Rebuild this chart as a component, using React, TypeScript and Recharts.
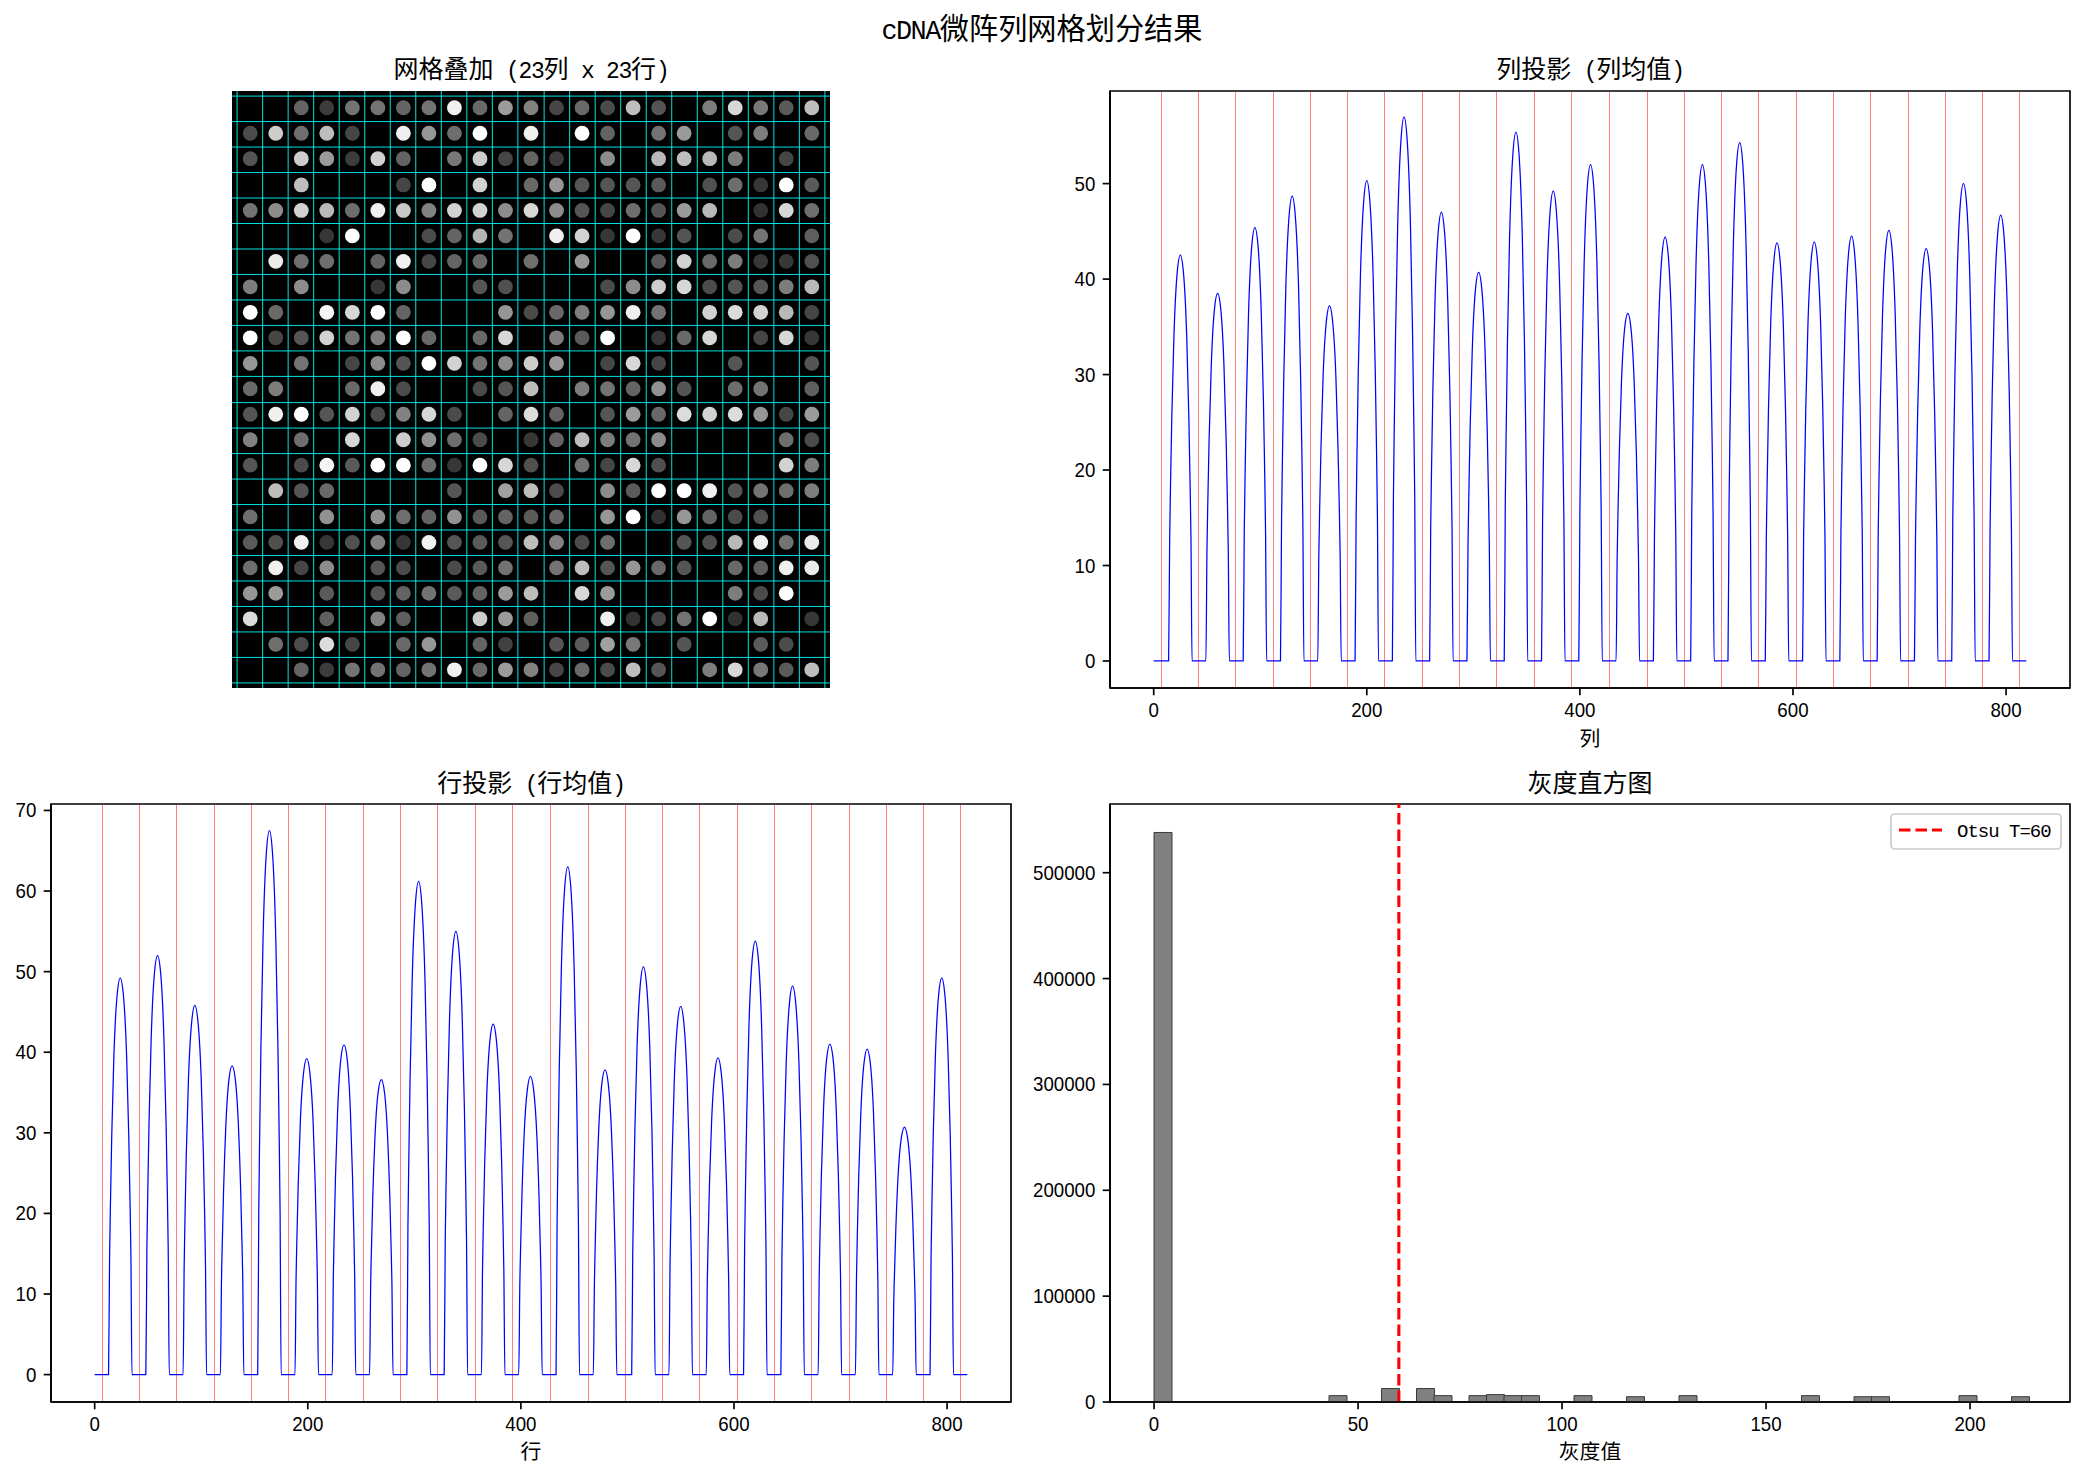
import React from "react";
import {
  ComposedChart, LineChart, ScatterChart, Line, Bar, Scatter, XAxis, YAxis,
  ReferenceLine, ReferenceArea, Legend,
} from "recharts";

// ---------- data ----------
const gridCols = [7, 42, 77, 112, 147, 182, 217, 252, 287, 322, 357, 392, 428, 463, 498, 533, 568, 603, 638, 673, 708, 743, 778, 813];
const gridRows = [7, 42, 77, 112, 147, 182, 217, 252, 287, 322, 357, 392, 428, 463, 498, 533, 568, 603, 638, 673, 708, 743, 778, 813];
const spotCols = [25, 60, 95, 130, 165, 200, 235, 270, 305, 340, 375, 410, 445, 480, 515, 550, 585, 620, 655, 690, 725, 760, 795];
const spotRows = [23, 58, 93, 129, 164, 199, 234, 269, 304, 339, 374, 409, 444, 479, 514, 549, 585, 620, 655, 690, 725, 760, 795];
const rowPeaks = [24, 59, 94, 129, 164, 199, 234, 269, 304, 339, 374, 409, 444, 479, 515, 550, 585, 620, 655, 690, 725, 760, 795];

const spotGray = [
  [0, 0, 100, 60, 115, 115, 100, 115, 240, 105, 155, 130, 70, 105, 75, 190, 85, 0, 125, 215, 120, 90, 190],
  [75, 205, 110, 190, 70, 0, 240, 150, 110, 255, 0, 240, 0, 255, 100, 0, 115, 155, 0, 85, 125, 0, 105],
  [85, 0, 205, 155, 60, 210, 100, 0, 120, 205, 70, 100, 60, 0, 140, 0, 185, 190, 185, 125, 0, 70, 0],
  [0, 0, 190, 0, 0, 0, 70, 255, 0, 210, 0, 105, 150, 85, 85, 85, 90, 0, 80, 110, 55, 255, 90],
  [115, 140, 210, 185, 110, 240, 200, 130, 210, 210, 140, 215, 140, 85, 70, 110, 85, 155, 185, 0, 50, 215, 110],
  [0, 0, 0, 55, 255, 0, 0, 75, 100, 180, 115, 0, 240, 210, 55, 255, 55, 85, 0, 75, 115, 0, 95],
  [0, 235, 110, 110, 0, 100, 240, 70, 100, 105, 0, 110, 0, 150, 0, 0, 90, 210, 105, 125, 55, 55, 80],
  [125, 0, 140, 0, 0, 55, 140, 0, 0, 85, 80, 0, 0, 0, 75, 140, 205, 215, 75, 85, 85, 125, 185],
  [255, 105, 0, 245, 215, 255, 100, 0, 0, 0, 150, 75, 105, 125, 150, 240, 115, 0, 210, 220, 210, 185, 70],
  [255, 70, 85, 210, 115, 125, 255, 105, 0, 105, 215, 0, 125, 90, 255, 0, 55, 105, 215, 0, 70, 215, 55],
  [150, 0, 115, 0, 70, 140, 85, 255, 210, 115, 140, 205, 155, 0, 70, 215, 70, 0, 0, 85, 0, 0, 85],
  [105, 125, 0, 0, 105, 240, 75, 0, 0, 75, 85, 190, 0, 125, 115, 100, 145, 85, 0, 110, 115, 0, 95],
  [85, 240, 255, 85, 210, 75, 130, 215, 75, 0, 100, 220, 100, 0, 85, 155, 105, 220, 210, 220, 150, 70, 155],
  [130, 0, 110, 0, 215, 0, 205, 145, 110, 75, 0, 55, 100, 190, 125, 115, 140, 0, 0, 0, 0, 110, 75],
  [85, 0, 75, 245, 90, 255, 255, 110, 55, 255, 215, 80, 0, 115, 70, 215, 80, 0, 0, 0, 0, 210, 125],
  [0, 190, 85, 105, 0, 0, 0, 0, 85, 0, 160, 190, 75, 0, 140, 90, 255, 255, 240, 85, 115, 110, 125],
  [110, 0, 0, 145, 0, 145, 110, 100, 145, 90, 100, 90, 105, 0, 150, 255, 50, 150, 100, 75, 80, 0, 0],
  [90, 80, 240, 55, 80, 130, 55, 240, 85, 90, 85, 190, 130, 75, 110, 0, 0, 85, 80, 185, 240, 115, 235],
  [110, 240, 70, 140, 0, 85, 75, 0, 75, 90, 115, 0, 115, 190, 85, 150, 105, 85, 0, 105, 95, 240, 235],
  [150, 155, 0, 90, 0, 85, 100, 115, 90, 100, 155, 190, 0, 215, 155, 0, 0, 0, 0, 125, 75, 255, 0],
  [220, 0, 0, 95, 0, 130, 95, 0, 0, 205, 155, 95, 0, 0, 240, 50, 70, 115, 255, 50, 185, 0, 55],
  [0, 110, 75, 220, 70, 0, 105, 150, 0, 100, 65, 0, 85, 90, 160, 120, 0, 85, 0, 0, 90, 75, 0],
  [0, 0, 100, 60, 115, 115, 100, 115, 240, 105, 155, 130, 70, 105, 75, 190, 85, 0, 125, 215, 120, 90, 190],
];

// Half-arch readings per peak, at distance 0, 3, 6, 8, 9, 10 from the peak centre (zero from 11 out).
const archDistances = [0, 3, 6, 8, 9, 10];
const colArches = [
  [42.5, 40.6, 34.0, 25.5, 19.6, 12.8],
  [38.5, 36.8, 30.8, 23.1, 17.7, 11.6],
  [45.4, 43.4, 36.3, 27.2, 20.9, 13.6],
  [48.7, 46.5, 39.0, 29.2, 22.4, 14.6],
  [37.2, 35.5, 29.8, 22.3, 17.1, 11.2],
  [50.3, 48.0, 40.2, 30.2, 23.1, 15.1],
  [57.0, 54.4, 45.6, 34.2, 26.2, 17.1],
  [47.0, 44.9, 37.6, 28.2, 21.6, 14.1],
  [40.7, 38.9, 32.6, 24.4, 18.7, 12.2],
  [55.4, 52.9, 44.3, 33.2, 25.5, 16.6],
  [49.2, 47.0, 39.4, 29.5, 22.6, 14.8],
  [52.0, 49.7, 41.6, 31.2, 23.9, 15.6],
  [36.4, 34.8, 29.1, 21.8, 16.7, 10.9],
  [44.4, 42.4, 35.5, 26.6, 20.4, 13.3],
  [52.0, 49.7, 41.6, 31.2, 23.9, 15.6],
  [54.3, 51.9, 43.4, 32.6, 25.0, 16.3],
  [43.8, 41.8, 35.0, 26.3, 20.1, 13.1],
  [43.9, 41.9, 35.1, 26.3, 20.2, 13.2],
  [44.5, 42.5, 35.6, 26.7, 20.5, 13.4],
  [45.1, 43.1, 36.1, 27.1, 20.7, 13.5],
  [43.2, 41.3, 34.6, 25.9, 19.9, 13.0],
  [50.0, 47.8, 40.0, 30.0, 23.0, 15.0],
  [46.7, 44.6, 37.4, 28.0, 21.5, 14.0],
];
const rowArches = [
  [49.2, 47.0, 39.4, 29.5, 22.6, 14.8],
  [52.0, 49.7, 41.6, 31.2, 23.9, 15.6],
  [45.8, 43.7, 36.6, 27.5, 21.1, 13.7],
  [38.3, 36.6, 30.6, 23.0, 17.6, 11.5],
  [67.5, 64.5, 54.0, 40.5, 31.1, 20.3],
  [39.2, 37.4, 31.4, 23.5, 18.0, 11.8],
  [40.9, 39.1, 32.7, 24.5, 18.8, 12.3],
  [36.6, 35.0, 29.3, 22.0, 16.8, 11.0],
  [61.2, 58.4, 49.0, 36.7, 28.2, 18.4],
  [55.0, 52.5, 44.0, 33.0, 25.3, 16.5],
  [43.5, 41.5, 34.8, 26.1, 20.0, 13.1],
  [37.0, 35.3, 29.6, 22.2, 17.0, 11.1],
  [63.0, 60.2, 50.4, 37.8, 29.0, 18.9],
  [37.8, 36.1, 30.2, 22.7, 17.4, 11.3],
  [50.6, 48.3, 40.5, 30.4, 23.3, 15.2],
  [45.7, 43.6, 36.6, 27.4, 21.0, 13.7],
  [39.3, 37.5, 31.4, 23.6, 18.1, 11.8],
  [53.8, 51.4, 43.0, 32.3, 24.7, 16.1],
  [48.2, 46.0, 38.6, 28.9, 22.2, 14.5],
  [41.0, 39.2, 32.8, 24.6, 18.9, 12.3],
  [40.4, 38.6, 32.3, 24.2, 18.6, 12.1],
  [30.7, 29.3, 24.6, 18.4, 14.1, 9.2],
  [49.2, 47.0, 39.4, 29.5, 22.6, 14.8],
];

const histBinWidth = 4.29;
const histCounts = [
  538000, 150, 0, 0, 0, 150, 150, 150, 150, 150,
  6000, 200, 200, 12700, 300, 12700, 6000, 300, 6000, 7000,
  6000, 6000, 0, 0, 6000, 0, 0, 5000, 0, 0,
  6000, 0, 0, 0, 0, 0, 0, 6000, 0, 0,
  5000, 5000, 0, 0, 0, 0, 6000, 0, 0, 5000,
];
const otsuThreshold = 60;

const colTicksX = [0, 200, 400, 600, 800];
const colTicksY = [0, 10, 20, 30, 40, 50];
const rowTicksY = [0, 10, 20, 30, 40, 50, 60, 70];
const histTicksX = [0, 50, 100, 150, 200];
const histTicksY = [0, 100000, 200000, 300000, 400000, 500000];

// ---------- tables for the library ----------
const spotTable = spotGray.flatMap((row, r) =>
  row.map((v, c) => ({ x: spotCols[c], y: spotRows[r], v })).filter((d) => d.v > 0)
);
function archTable(centers: number[], arches: number[][]) {
  const out: { x: number; y: number }[] = [{ x: 0, y: 0 }];
  centers.forEach((c, i) => {
    out.push({ x: c - 11, y: 0 });
    for (let k = archDistances.length - 1; k > 0; k--) out.push({ x: c - archDistances[k], y: arches[i][k] });
    archDistances.forEach((d, k) => out.push({ x: c + d, y: arches[i][k] }));
    out.push({ x: c + 11, y: 0 });
  });
  out.push({ x: 819, y: 0 });
  return out;
}
const colTable = archTable(spotCols, colArches);
const rowTable = archTable(rowPeaks, rowArches);
const histTable = histCounts.map((count, i) => ({ bin: i, count: count > 0 ? count : null }));
const otsuLine = [{ x: otsuThreshold, otsu: 0 }, { x: otsuThreshold, otsu: 564900 }];

// ---------- text helpers (half-width latin, full-width CJK) ----------
const CJK = '"Noto Sans CJK SC"';
const MONO = '"Liberation Mono"';
const DIGITS = '"Liberation Sans"';
const isWide = (ch: string) => ch.charCodeAt(0) > 0x2e80;

function MixedText({ x, y, text, size }: { x: number; y: number; text: string; size: number }) {
  const runs: { s: string; wide: boolean }[] = [];
  for (const ch of text) {
    const w = isWide(ch);
    if (runs.length && runs[runs.length - 1].wide === w) runs[runs.length - 1].s += ch;
    else runs.push({ s: ch, wide: w });
  }
  const widthOf = (r: { s: string; wide: boolean }) => r.s.length * (r.wide ? size : size / 2);
  const total = runs.reduce((a, r) => a + widthOf(r), 0);
  let cx = x - total / 2;
  return (
    <text y={y} fill="#000" style={{ whiteSpace: "pre" }}>
      {runs.map((r, i) => {
        const px = cx;
        cx += widthOf(r);
        return r.wide ? (
          <tspan key={i} x={px} fontFamily={CJK} fontSize={size} letterSpacing={0}>{r.s}</tspan>
        ) : (
          <tspan key={i} x={px} fontFamily={MONO} fontSize={size * 0.92} letterSpacing={-size * 0.052}>{r.s}</tspan>
        );
      })}
    </text>
  );
}

const TICK_FONT = 20.8;
function XTick({ x, y, payload }: any) {
  const s = String(payload.value);
  return (
    <text x={x} y={y + 22} textAnchor="middle" fontFamily={DIGITS} fontSize={TICK_FONT} fill="#000"
      textLength={s.length * TICK_FONT / 2} lengthAdjust="spacingAndGlyphs">{s}</text>
  );
}
function YTick({ x, y, payload }: any) {
  const s = String(payload.value);
  return (
    <text x={x - 7.3} y={y + 7} textAnchor="end" fontFamily={DIGITS} fontSize={TICK_FONT} fill="#000"
      textLength={s.length * TICK_FONT / 2} lengthAdjust="spacingAndGlyphs">{s}</text>
  );
}

const axisStroke = { stroke: "#000", strokeWidth: 1.67 };
const place = (l: number, t: number) => ({ position: "absolute" as const, left: l, top: t });

function axes(domX: number[], domY: number[], tx: number[], ty: number[], yWidth: number, dataKey = "x") {
  return [
    <XAxis key="x" type="number" dataKey={dataKey} domain={domX} ticks={tx} allowDataOverflow interval={0} height={80}
      tick={<XTick />} tickSize={7.3} tickMargin={0} axisLine={axisStroke} tickLine={axisStroke} />,
    <YAxis key="y" type="number" domain={domY} ticks={ty} allowDataOverflow interval={0} width={yWidth}
      tick={<YTick />} tickSize={7.3} tickMargin={0} axisLine={axisStroke} tickLine={axisStroke} />,
  ];
}
function frame(domX: number[], domY: number[]) {
  return (
    <ReferenceArea x1={domX[0]} x2={domX[1]} y1={domY[0]} y2={domY[1]} ifOverflow="visible"
      fill="none" stroke="#000" strokeWidth={1.67} />
  );
}

function Projection({ data, lines, l, t, r, b, domY, ticksY, yWidth }: any) {
  const domX = [-41, 860];
  return (
    <div style={place(l - yWidth, t - 20)}>
      <LineChart width={r - l + yWidth + 10} height={b - t + 100} data={data}
        margin={{ top: 20, right: 10, bottom: 0, left: 0 }}>
        {axes(domX, domY, colTicksX, ticksY, yWidth)}
        {lines.map((g: number) => (
          <ReferenceLine key={g} x={g} stroke="#ff0000" strokeOpacity={0.5} strokeWidth={1} shapeRendering="crispEdges" />
        ))}
        <Line type="monotone" dataKey="y" stroke="#0000ff" strokeWidth={1.25} dot={false} isAnimationActive={false} />
        {frame(domX, domY)}
      </LineChart>
    </div>
  );
}

function LegendBox() {
  return (
    <svg width={172} height={37}>
      <rect x={1} y={1} width={170} height={35} rx={4} fill="#fff" fillOpacity={0.8} stroke="#cccccc" strokeWidth={1.67} />
      <line x1={9} x2={52} y1={17} y2={17} stroke="#ff0000" strokeWidth={3.1} strokeDasharray="11.5 5" />
      <text x={67} y={24} fontFamily={MONO} fontSize={19} letterSpacing={-1} fill="#000">Otsu T=60</text>
    </svg>
  );
}

export default function App() {
  const heatX = [0, 820];
  const heatY = [0, 820];
  const histX = [-10.8, 224.5];
  const histY = [0, 564900];
  return (
    <div style={{ position: "absolute", left: 0, top: 0, width: 2085, height: 1477, background: "#fff", overflow: "hidden" }}>
      <div style={place(232, 91)}>
        <ScatterChart width={598} height={597} margin={{ top: 0, right: 0, bottom: 0, left: 0 }}>
          <XAxis type="number" dataKey="x" domain={heatX} hide allowDataOverflow />
          <YAxis type="number" dataKey="y" domain={heatY} hide reversed allowDataOverflow />
          <ReferenceArea x1={heatX[0]} x2={heatX[1]} y1={heatY[0]} y2={heatY[1]} fill="#000" fillOpacity={1} stroke="none" ifOverflow="visible" />
          <Scatter data={spotTable} isAnimationActive={false}
            shape={(p: any) => <circle cx={p.cx} cy={p.cy} r={7.4} fill={`rgb(${p.payload.v},${p.payload.v},${p.payload.v})`} />} />
          {gridCols.map((g) => <ReferenceLine key={"c" + g} x={g} stroke="#00ecec" strokeWidth={1} strokeOpacity={0.95} />)}
          {gridRows.map((g) => <ReferenceLine key={"r" + g} y={g} stroke="#00ecec" strokeWidth={1} strokeOpacity={0.95} />)}
        </ScatterChart>
      </div>

      <Projection data={colTable} lines={gridCols} l={1110} t={91} r={2070} b={688}
        domY={[-2.83, 59.7]} ticksY={colTicksY} yWidth={50} />
      <Projection data={rowTable} lines={gridRows} l={51} t={804} r={1011} b={1402}
        domY={[-3.4, 70.8]} ticksY={rowTicksY} yWidth={50} />

      <div style={place(1110 - 90, 804 - 20)}>
        <ComposedChart width={960 + 90 + 10} height={598 + 100} data={histTable} barCategoryGap={0}
          margin={{ top: 20, right: 10, bottom: 0, left: 0 }}>
          {axes(histX, histY, histTicksX, histTicksY, 90)}
          <XAxis xAxisId="bins" type="category" dataKey="bin" hide padding={{ left: 44, right: 41 }} />
          <Bar xAxisId="bins" dataKey="count" fill="#808080" stroke="#3a3a3a" strokeWidth={1}
            legendType="none" isAnimationActive={false} />
          <Line data={otsuLine} dataKey="otsu" name="Otsu T=60" stroke="#ff0000" strokeWidth={3.1}
            strokeDasharray="11.5 5" dot={false} isAnimationActive={false} />
          {frame(histX, histY)}
          <Legend layout="vertical" align="center" verticalAlign="middle" content={() => <LegendBox />}
            wrapperStyle={{ position: "absolute", left: 870, top: 29, width: 172, height: 37, margin: 0 }} />
        </ComposedChart>
      </div>

      <svg width={2085} height={1477} style={{ position: "absolute", left: 0, top: 0, pointerEvents: "none" }}>
        <MixedText x={1042} y={39} size={29.2} text="cDNA微阵列网格划分结果" />
        <MixedText x={531} y={78} size={25} text="网格叠加 (23列 x 23行)" />
        <MixedText x={1590} y={78} size={25} text="列投影 (列均值)" />
        <MixedText x={531} y={792} size={25} text="行投影 (行均值)" />
        <MixedText x={1590} y={792} size={25} text="灰度直方图" />
        <MixedText x={1590} y={746} size={20.8} text="列" />
        <MixedText x={531} y={1459} size={20.8} text="行" />
        <MixedText x={1590} y={1459} size={20.8} text="灰度值" />
      </svg>
    </div>
  );
}
